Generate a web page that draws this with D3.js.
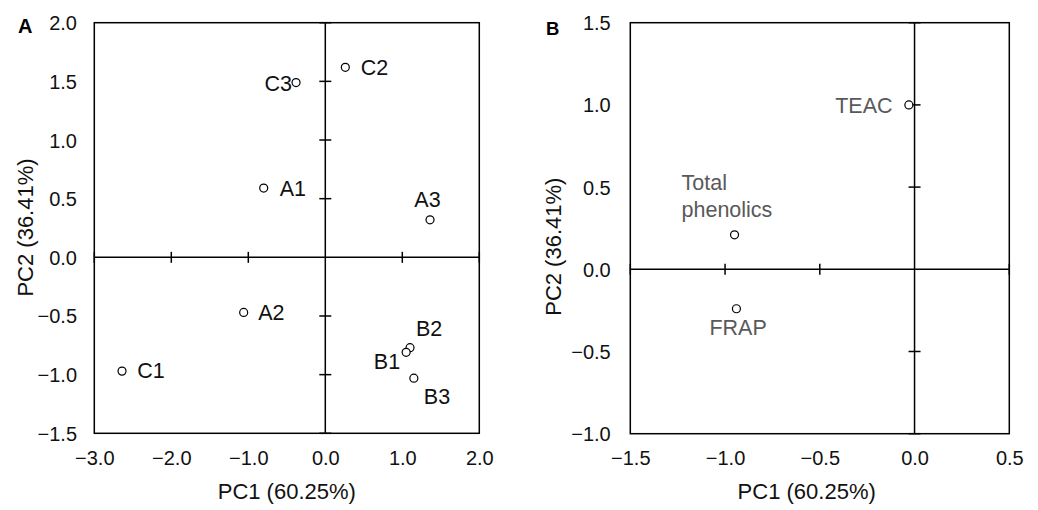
<!DOCTYPE html>
<html><head><meta charset="utf-8">
<script src="https://cdn.jsdelivr.net/npm/d3@7"></script>
<style>
body{margin:0;background:#fff}
svg text{font-family:"Liberation Sans",Arial,sans-serif}
</style>
</head><body>
<svg id="c" width="1038" height="510"></svg>
<script>
// ---------- data ----------
const labelsA = ["C3","C2","A1","A3","A2","C1","B2","B1","B3"];
const pc1A = [-0.38, 0.26, -0.80, 1.36, -1.06, -2.64, 1.10, 1.05, 1.15];
const pc2A = [1.49, 1.62, 0.59, 0.32, -0.47, -0.97, -0.77, -0.81, -1.03];
const xTicksA = [-3,-2,-1,0,1,2];
const yTicksA = [-1.5,-1,-0.5,0,0.5,1,1.5,2];

const labelsB = ["TEAC","Total phenolics","FRAP"];
const pc1B = [-0.03, -0.95, -0.94];
const pc2B = [1.00, 0.21, -0.24];
const xTicksB = [-1.5,-1,-0.5,0,0.5];
const yTicksB = [-1,-0.5,0,0.5,1,1.5];

const xTitle = "PC1 (60.25%)";
const yTitle = "PC2 (36.41%)";

// ---------- label layout (style) ----------
const placeA = {
  C3:{a:"end",dx:-4,dy:8}, C2:{a:"start",dx:15.5,dy:7.7}, A1:{a:"start",dx:16,dy:7.7},
  A3:{a:"middle",dx:-2.5,dy:-12.6}, A2:{a:"start",dx:14.6,dy:8}, C1:{a:"start",dx:15.3,dy:7.3},
  B2:{a:"start",dx:6,dy:-11.7}, B1:{a:"end",dx:-6,dy:16.6}, B3:{a:"start",dx:10,dy:26}
};
const placeB = {
  "TEAC":{a:"end",dx:-16.3,dy:7.7,lines:["TEAC"]},
  "Total phenolics":{a:"start",dx:-53,dy:-44.3,lines:["Total","phenolics"]},
  "FRAP":{a:"start",dx:-27,dy:26.7,lines:["FRAP"]}
};

const svg = d3.select("#c");
const fmt = d3.format(".1f");
const FS_TICK = 20, FS_LAB = 21.5, FS_TITLE = 22;
const FF = '"Liberation Sans",Arial,sans-serif';

function panel(o){
  const g = svg.append("g");
  const x = d3.scaleLinear().domain(o.xd).range([o.l, o.r]);
  const y = d3.scaleLinear().domain(o.yd).range([o.b, o.t]);
  // zero lines
  g.append("line").attr("x1",x(0)).attr("x2",x(0)).attr("y1",o.t).attr("y2",o.b)
    .attr("stroke","#000").attr("stroke-width",1.5);
  g.append("line").attr("x1",o.l).attr("x2",o.r).attr("y1",y(0)).attr("y2",y(0))
    .attr("stroke","#000").attr("stroke-width",1.5);
  // cross ticks on zero lines
  g.selectAll(".xt").data(o.xt.filter(v=>v!==0)).join("line")
    .attr("x1",d=>x(d)).attr("x2",d=>x(d)).attr("y1",y(0)-5.5).attr("y2",y(0)+5.5)
    .attr("stroke","#000").attr("stroke-width",1.5);
  g.selectAll(".yt").data(o.yt.filter(v=>v!==0)).join("line")
    .attr("y1",d=>y(d)).attr("y2",d=>y(d)).attr("x1",x(0)-6).attr("x2",x(0)+6)
    .attr("stroke","#000").attr("stroke-width",1.5);
  // frame
  g.append("rect").attr("x",o.l).attr("y",o.t).attr("width",o.r-o.l).attr("height",o.b-o.t)
    .attr("fill","none").attr("stroke","#000").attr("stroke-width",1.5);
  // tick labels via axes
  const ax = g.append("g").attr("transform",`translate(0,${o.b})`)
    .call(d3.axisBottom(x).tickValues(o.xt).tickFormat(fmt).tickSize(0).tickPadding(0));
  ax.select(".domain").remove();
  ax.selectAll("text").attr("font-size",FS_TICK).attr("fill","#111").attr("dy",null).attr("y",31.5)
    .style("font-family",FF);
  const ay = g.append("g").attr("transform",`translate(${o.ylx},0)`)
    .call(d3.axisLeft(y).tickValues(o.yt).tickFormat(fmt).tickSize(0).tickPadding(0));
  ay.select(".domain").remove();
  ay.selectAll("text").attr("font-size",FS_TICK).attr("fill","#111").attr("x",0).attr("dy","0.35em")
    .style("font-family",FF);
  // axis titles
  g.append("text").attr("x",o.xtx).attr("y",499).attr("text-anchor","middle")
    .attr("font-size",FS_TITLE).attr("fill","#111").text(xTitle);
  g.append("text").attr("transform",`translate(${o.ytx},${o.yty}) rotate(-90)`)
    .attr("text-anchor","middle").attr("font-size",FS_TITLE).attr("fill","#111").text(yTitle);
  // panel letter
  g.append("text").attr("x",o.lx).attr("y",o.ly).attr("font-size",o.lfs).attr("font-weight","bold")
    .attr("fill","#000").text(o.letter);
  // points
  const pts = o.px.map((v,i)=>({x:v,y:o.py[i],lab:o.labs[i]}));
  g.selectAll(".pt").data(pts).join("circle")
    .attr("cx",d=>x(d.x)).attr("cy",d=>y(d.y)).attr("r",4)
    .attr("fill","#fff").attr("stroke","#000").attr("stroke-width",1.2);
  // labels
  pts.forEach(d=>{
    const p = o.place[d.lab];
    const lines = p.lines || [d.lab];
    const t = g.append("text").attr("text-anchor",p.a).attr("font-size",FS_LAB).attr("fill",o.lc);
    lines.forEach((ln,k)=>{
      t.append("tspan").attr("x",x(d.x)+p.dx).attr("y",y(d.y)+p.dy+k*26.6).text(ln);
    });
  });
}

panel({xd:[-3,2],yd:[-1.5,2],l:94.3,r:479.3,t:22.7,b:433.3,xt:xTicksA,yt:yTicksA,
  ylx:77,xtx:286.8,ytx:33,yty:227.5,letter:"A",lx:18,ly:33.3,lfs:20,
  px:pc1A,py:pc2A,labs:labelsA,place:placeA,lc:"#111"});
panel({xd:[-1.5,0.5],yd:[-1,1.5],l:630.3,r:1009.3,t:22.7,b:433.7,xt:xTicksB,yt:yTicksB,
  ylx:610.7,xtx:806.7,ytx:561,yty:246.7,letter:"B",lx:546,ly:35,lfs:18.5,
  px:pc1B,py:pc2B,labs:labelsB,place:placeB,lc:"#595959"});
</script>
</body></html>
